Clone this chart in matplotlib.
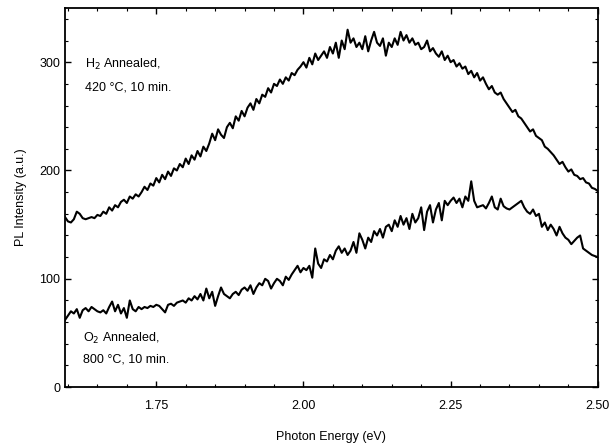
import matplotlib.pyplot as plt
import numpy as np
from matplotlib.ticker import MultipleLocator

# PL spectra, energy grid 1.595 .. 2.500 eV (0.005 eV steps)
e_start = 1.595
e_stop = 2.500

h2_annealed = [
    157, 153, 152, 155, 162, 160, 156, 155, 156, 157,
    156, 159, 158, 162, 160, 166, 163, 168, 166, 171,
    173, 170, 176, 174, 178, 176, 180, 185, 182, 188,
    186, 193, 189, 196, 192, 199, 195, 202, 200, 206,
    203, 211, 206, 214, 210, 218, 213, 222, 218, 225,
    234, 228, 238, 233, 230, 240, 244, 239, 250, 246,
    255, 250, 258, 262, 256, 266, 262, 270, 268, 276,
    272, 280, 278, 284, 280, 286, 283, 290, 288, 293,
    296, 300, 295, 304, 298, 308, 302, 306, 310, 304,
    314, 308, 318, 304, 320, 312, 330, 318, 322, 314,
    318, 312, 324, 310, 320, 328, 318, 315, 322, 306,
    318, 314, 322, 316, 328, 320, 325, 318, 322, 316,
    318, 312, 314, 320, 310, 313, 308, 305, 310, 302,
    306, 300, 302, 296, 299, 294, 296, 289, 292, 286,
    290, 283, 286, 280, 275, 278, 272, 270, 272, 266,
    262, 258, 254, 256, 250, 248, 244, 240, 236, 238,
    232, 230, 228, 222, 220, 217, 214, 210, 206, 208,
    203, 199, 201, 196, 195, 192, 193, 189, 188, 184,
    183, 181,
]

o2_annealed = [
    62, 66, 70, 68, 72, 64, 71, 73, 70, 74,
    72, 70, 69, 71, 68, 74, 79, 70, 76, 68,
    73, 64, 80, 72, 70, 74, 72, 74, 73, 75,
    74, 76, 75, 72, 69, 76, 77, 75, 78, 79,
    80, 78, 82, 80, 84, 81, 86, 80, 91, 82,
    88, 75, 84, 92, 86, 84, 82, 86, 88, 85,
    90, 92, 89, 94, 86, 92, 96, 94, 100, 98,
    91, 96, 100, 98, 94, 102, 99, 104, 108, 112,
    106, 110, 108, 112, 101, 128, 114, 110, 118, 116,
    122, 118, 126, 130, 124, 128, 122, 126, 134, 124,
    142, 136, 128, 138, 134, 144, 140, 146, 138, 148,
    150, 144, 154, 148, 158, 150, 156, 146, 160, 152,
    156, 166, 145, 162, 168, 152, 164, 170, 154, 172,
    168, 172, 175, 170, 174, 166, 176, 172, 190, 172,
    166, 167, 168, 165, 170, 176, 166, 164, 174, 167,
    165, 164, 166, 168, 170, 172, 166, 162, 160, 164,
    158, 160, 148, 152, 145, 150, 146, 140, 148, 142,
    138, 136, 132, 135, 138, 140, 128, 126, 124, 122,
    121, 120,
]

energy = np.linspace(e_start, e_stop, len(h2_annealed))

plt.rcParams['font.family'] = ['Liberation Sans', 'DejaVu Sans']
fs = 9

fig = plt.figure(figsize=(6.1, 4.46), dpi=100)
ax = fig.add_axes([0.1066, 0.132, 0.8734, 0.850])

ax.plot(energy, h2_annealed, color="black", lw=1.5)
ax.plot(energy, o2_annealed, color="black", lw=1.5)

ax.set_xlim(1.595, 2.5)
ax.set_ylim(0, 350)
ax.xaxis.set_major_locator(MultipleLocator(0.25))
ax.xaxis.set_minor_locator(MultipleLocator(0.05))
ax.yaxis.set_major_locator(MultipleLocator(100))
ax.yaxis.set_minor_locator(MultipleLocator(20))
ax.xaxis.set_major_formatter(plt.FormatStrFormatter("%.2f"))
ax.tick_params(which="both", direction="in", top=True, right=True, labelsize=fs)
ax.tick_params(which="major", length=4, width=1)
ax.tick_params(which="minor", length=2, width=0.8)
ax.tick_params(axis="x", pad=9)
for s in ax.spines.values():
    s.set_linewidth(1.3)

ax.set_xlabel("Photon Energy (eV)", fontsize=fs, labelpad=14)
ax.set_ylabel("PL Intensity (a.u.)", fontsize=fs, labelpad=9)

ax.text(0.038, 0.852, "H$_2$ Annealed,", transform=ax.transAxes, fontsize=fs, va="center")
ax.text(0.038, 0.79, "420 \u00b0C, 10 min.", transform=ax.transAxes, fontsize=fs, va="center")
ax.text(0.033, 0.128, "O$_2$ Annealed,", transform=ax.transAxes, fontsize=fs, va="center")
ax.text(0.033, 0.073, "800 \u00b0C, 10 min.", transform=ax.transAxes, fontsize=fs, va="center")

fig.savefig("out.png", dpi=100)
